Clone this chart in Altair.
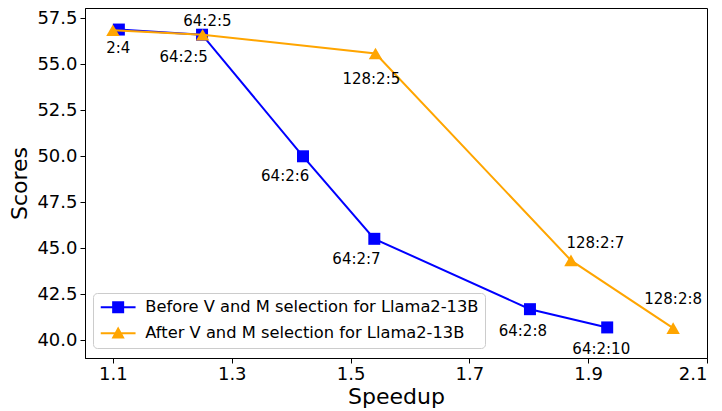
import altair as alt
import pandas as pd

# ---------------- data ----------------
series_names = ["Before V and M selection for Llama2-13B",
                "After V and M selection for Llama2-13B"]
series_colors = ["#0000ff", "#ffa500"]

before_speedup = [1.110, 1.250, 1.420, 1.540, 1.802, 1.932]
before_scores = [56.88, 56.60, 50.00, 45.52, 41.70, 40.71]
before_labels = ["2:4", "64:2:5", "64:2:6", "64:2:7", "64:2:8", "64:2:10"]
before_label_x = [1.109, 1.219, 1.390, 1.510, 1.790, 1.922]
before_label_y = [55.90, 55.40, 48.95, 44.40, 40.51, 39.53]

after_speedup = [1.100, 1.251, 1.542, 1.871, 2.043]
after_scores = [56.84, 56.60, 55.58, 44.35, 40.67]
after_labels = ["", "64:2:5", "128:2:5", "128:2:7", "128:2:8"]
after_label_x = [1.100, 1.259, 1.535, 1.912, 2.043]
after_label_y = [57.34, 57.34, 54.20, 45.27, 42.24]

x_ticks = [1.1, 1.3, 1.5, 1.7, 1.9, 2.1]
y_ticks = [40.0, 42.5, 45.0, 47.5, 50.0, 52.5, 55.0, 57.5]

# legend symbols: line segment + marker
legend_paths = [
    "M-2.9,-0.17H2.9V0.17H-2.9Z M-1,-1H1V1H-1Z",
    "M-2.9,-0.17H2.9V0.17H-2.9Z M0,-1.1L1.1,0.9L-1.1,0.9Z",
]

rows = []
for i in range(len(before_speedup)):
    rows.append(dict(series=series_names[0], speedup=before_speedup[i], score=before_scores[i],
                     label=before_labels[i], label_x=before_label_x[i], label_y=before_label_y[i]))
for i in range(len(after_speedup)):
    rows.append(dict(series=series_names[1], speedup=after_speedup[i], score=after_scores[i],
                     label=after_labels[i], label_x=after_label_x[i], label_y=after_label_y[i]))
df = pd.DataFrame(rows)

FONT = "DejaVu Sans"
x_scale = alt.Scale(domain=[1.053, 2.1], nice=False, zero=False)
y_scale = alt.Scale(domain=[39.05, 58.05], nice=False, zero=False)
x_axis = alt.Axis(values=x_ticks, format=".1f", labelPadding=2, titlePadding=3)
y_axis = alt.Axis(values=y_ticks, format=".1f", labelPadding=3, titlePadding=5)


def xe(field):
    return alt.X(f"{field}:Q", scale=x_scale, axis=x_axis, title="Speedup")


def ye(field):
    return alt.Y(f"{field}:Q", scale=y_scale, axis=y_axis, title="Scores")


color_scale = alt.Scale(domain=series_names, range=series_colors)
legend = alt.Legend(orient="none", legendX=8, legendY=285, title=None,
                    labelFont=FONT, labelFontSize=16.3, labelColor="black", labelLimit=0,
                    symbolSize=144, symbolOpacity=1, symbolStrokeWidth=0,
                    strokeColor="#cccccc", fillColor="white", cornerRadius=4,
                    padding=6, symbolOffset=11, labelOffset=19, rowPadding=9)
col = alt.Color("series:N", scale=color_scale, legend=legend)

base = alt.Chart(df)
is_b = alt.datum.series == series_names[0]
is_a = alt.datum.series == series_names[1]

line_b = base.transform_filter(is_b).mark_line(strokeWidth=2).encode(x=xe("speedup"), y=ye("score"), color=col)
pts_b = base.transform_filter(is_b).mark_square(size=144, opacity=1).encode(x=xe("speedup"), y=ye("score"), color=col)
line_a = base.transform_filter(is_a).mark_line(strokeWidth=2).encode(x=xe("speedup"), y=ye("score"), color=col)
pts_a = base.transform_filter(is_a).mark_point(shape="triangle-up", filled=True, size=180, opacity=1).encode(
    x=xe("speedup"), y=ye("score"), color=col)

legend_layer = base.mark_point(filled=True, opacity=0).encode(
    x=xe("speedup"), y=ye("score"), color=col,
    shape=alt.Shape("series:N", scale=alt.Scale(domain=series_names, range=legend_paths), legend=legend))

texts = base.transform_filter(alt.datum.label != "").mark_text(
    font=FONT, fontSize=15, color="black", align="center", baseline="middle").encode(
    x=xe("label_x"), y=ye("label_y"), text="label:N")

chart = alt.layer(line_b, pts_b, line_a, pts_a, legend_layer, texts).properties(
    width=622, height=350,
    autosize=alt.AutoSizeParams(type="none"),
    padding={"left": 77, "top": 0, "right": 7, "bottom": 53},
).configure_view(stroke="black", strokeWidth=1).configure_axis(
    grid=False, domainColor="black", tickColor="black", labelColor="black", titleColor="black",
    labelFont=FONT, titleFont=FONT, titleFontWeight="normal", labelFontSize=18, titleFontSize=22,
    tickSize=5, domainWidth=1, tickWidth=1)

chart.save("out.html", embed_options={"renderer": "svg", "actions": False})
